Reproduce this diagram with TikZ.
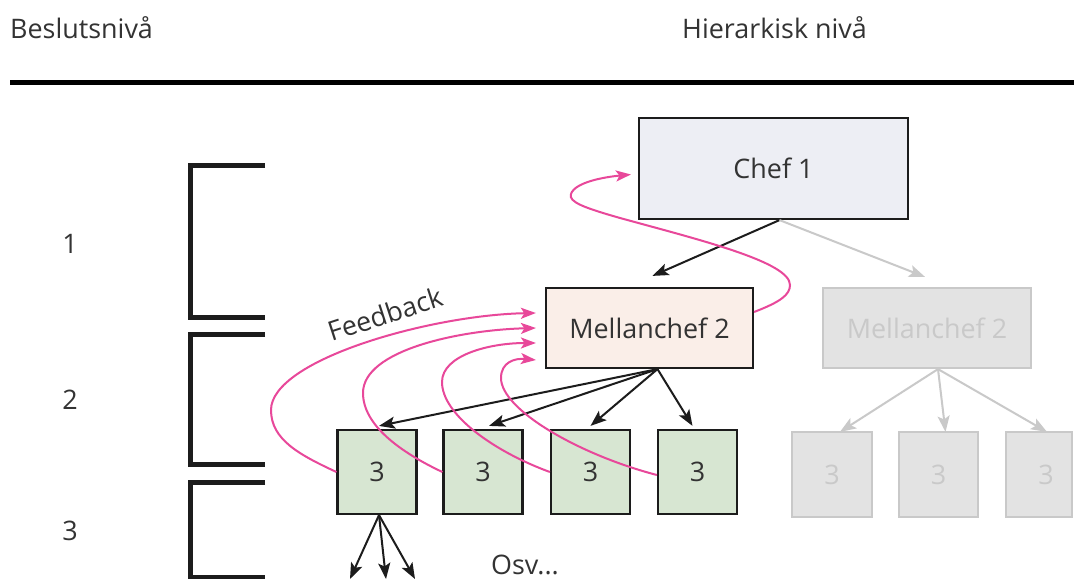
\documentclass[tikz,border=0pt]{standalone}
\usepackage{fontspec}
\setmainfont{Open Sans}
\usetikzlibrary{arrows.meta}
\definecolor{txt}{HTML}{333333}
\definecolor{ink}{HTML}{1C1C1C}
\definecolor{mag}{HTML}{E8489A}
\definecolor{chefc}{HTML}{EDEEF4}
\definecolor{mcc}{HTML}{FAEEE8}
\definecolor{grn}{HTML}{D7E6D2}
\definecolor{gfill}{HTML}{E3E3E3}
\definecolor{gline}{HTML}{C9C9C9}
\begin{document}
\begin{tikzpicture}[x=1bp,y=-1bp,
  font=\fontsize{27}{32}\selectfont, text=txt,
  box/.style={draw=ink, line width=2.2bp, inner sep=0pt},
  gbox/.style={draw=gline, fill=gfill, text=gline, line width=2.2bp, inner sep=0pt},
  arr/.style={draw=ink, line width=2bp, -{Stealth[length=16bp,width=12bp,inset=3.5bp]}},
  garr/.style={draw=gline, line width=2bp, -{Stealth[length=16bp,width=12bp,inset=3.5bp]}},
  fb/.style={draw=mag, line width=2bp, -{Stealth[length=15bp,width=11bp,inset=3.5bp]}},
  brk/.style={draw=ink, line width=5bp, line join=miter}]
\useasboundingbox[fill=white] (0,0) rectangle (1074,579);

% headers
\node[anchor=base west, inner sep=0pt] (h1) at (10,39) {Beslutsnivå};
\node[anchor=base west, inner sep=0pt] (h2) at (682,39) {Hierarkisk nivå};
\draw[line width=5bp, draw=black] (10,82.5) -- (1074,82.5);

% brackets
\draw[brk] (265,166) -- (190.5,166) -- (190.5,317.5) -- (265,317.5);
\draw[brk] (265,334.5) -- (190.5,334.5) -- (190.5,464) -- (265,464);
\draw[brk] (265,482) -- (190.5,482) -- (190.5,577) -- (265,577);
\node (l1) at (70,244) {1};
\node (l2) at (70,400) {2};
\node (l3) at (70,531) {3};

% boxes
\node[box, fill=chefc, minimum width=269bp, minimum height=101bp] (chef) at (773.5,168.5) {Chef 1};
\node[box, fill=mcc, minimum width=207bp, minimum height=80bp] (mc) at (649.5,328) {Mellanchef 2};
\node[gbox, minimum width=208bp, minimum height=80bp] (mcg) at (927,328) {Mellanchef 2};

\node[box, fill=grn, minimum width=79bp, minimum height=84bp] (b1) at (377,472) {3};
\node[box, fill=grn, minimum width=79bp, minimum height=84bp] (b2) at (483,472) {3};
\node[box, fill=grn, minimum width=79bp, minimum height=84bp] (b3) at (590.5,472) {3};
\node[box, fill=grn, minimum width=79bp, minimum height=84bp] (b4) at (697.5,472) {3};

\node[gbox, minimum width=80bp, minimum height=85bp] (g1) at (832,474.5) {3};
\node[gbox, minimum width=79bp, minimum height=85bp] (g2) at (938.5,474.5) {3};
\node[gbox, minimum width=66bp, minimum height=85bp] (g3) at (1039,474.5) {};
\node[text=gline] (g3t) at (1046,474.5) {3};

% black arrows
\draw[arr] ([xshift=6bp]chef.south) -- ([xshift=3bp,yshift=11bp]mc.north);
\draw[garr] ([xshift=6bp]chef.south) -- ([xshift=-2bp,yshift=10bp]mcg.north);

\draw[arr] ([xshift=8bp]mc.south) -- ([xshift=2bp,yshift=3bp]b1.north);
\draw[arr] ([xshift=8bp]mc.south) -- ([xshift=6bp,yshift=3bp]b2.north);
\draw[arr] ([xshift=8bp]mc.south) -- ([xshift=0bp,yshift=3bp]b3.north);
\draw[arr] ([xshift=8bp]mc.south) -- ([xshift=-5bp,yshift=3bp]b4.north);

\draw[garr] ([xshift=11bp]mcg.south) -- ([xshift=8bp,yshift=-1bp]g1.north);
\draw[garr] ([xshift=11bp]mcg.south) -- ([xshift=7bp,yshift=-1bp]g2.north);
\draw[garr] ([xshift=11bp]mcg.south) -- ([xshift=8bp,yshift=-1bp]g3.north);

\coordinate (d1) at (350,579);
\coordinate (d2) at (386,579);
\coordinate (d3) at (415,579);
\draw[arr] ([xshift=2bp]b1.south) -- (d1);
\draw[arr] ([xshift=2bp]b1.south) -- (d2);
\draw[arr] ([xshift=2bp]b1.south) -- (d3);

\node[anchor=base west, inner sep=0pt] (osv) at (491,574) {Osv...};

% feedback curves
\draw[fb] ([yshift=0bp]b1.west) .. controls (300,455) and (271,440) .. (271,410)
  .. controls (271,360) and (430,315) .. ([xshift=-9bp,yshift=15bp]mc.west);
\draw[fb] (b2.west) .. controls (400,452) and (363,425) .. (363,393)
  .. controls (363,350) and (460,330) .. ([xshift=-9bp,yshift=0bp]mc.west);
\draw[fb] (b3.west) .. controls (495,452) and (442,415) .. (442,382)
  .. controls (442,355) and (490,343) .. ([xshift=-9bp,yshift=-15bp]mc.west);
\draw[fb] ([yshift=-3bp]b4.west) .. controls (580,455) and (501,410) .. (501,378)
  .. controls (501,362) and (515,358) .. ([xshift=-9bp,yshift=-32bp]mc.west);

\draw[fb] ([yshift=16bp]mc.east) .. controls (780,302) and (790,295) .. (790,285)
  .. controls (790,262) and (700,240) .. (620,218)
  .. controls (585,208) and (568,202) .. (571,194)
  .. controls (575,182) and (605,177) .. ([xshift=-7bp,yshift=-6bp]chef.west);

\node[rotate=18, inner sep=0pt] (fbt) at (385,314) {Feedback};
\end{tikzpicture}
\end{document}
